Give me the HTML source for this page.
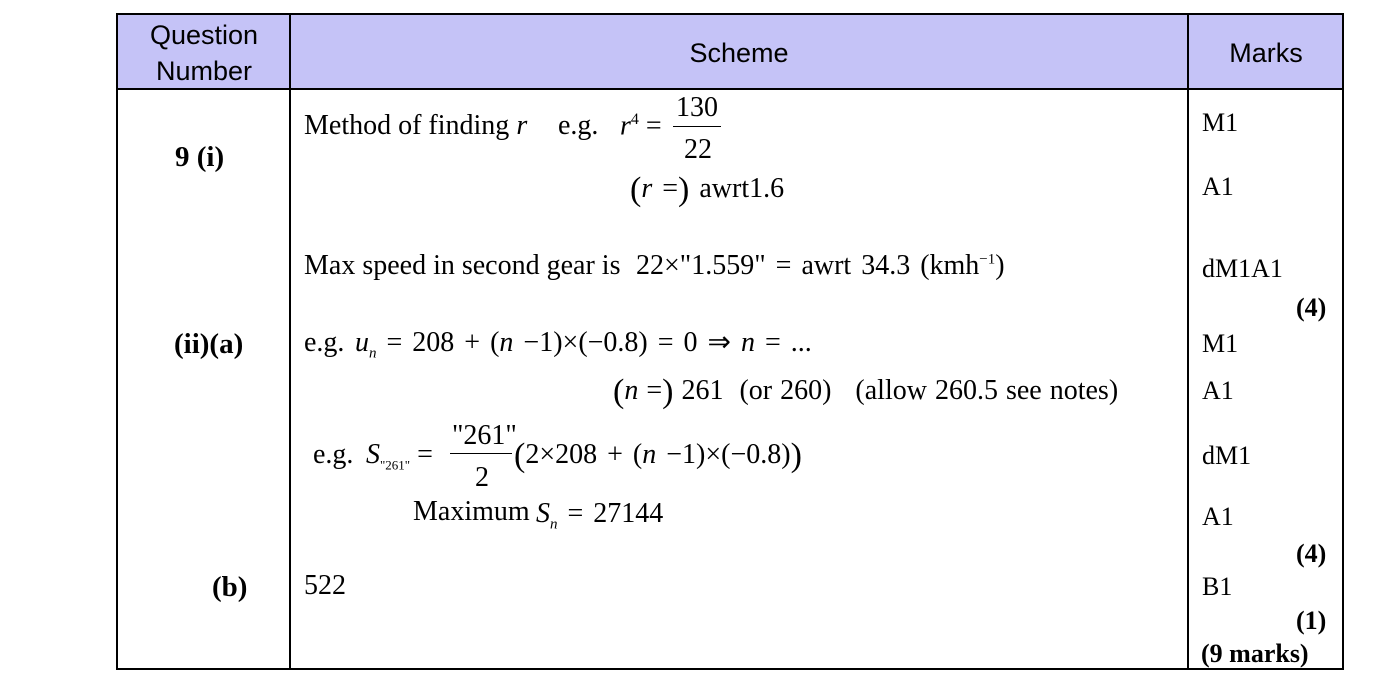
<!DOCTYPE html>
<html><head><meta charset="utf-8"><style>
body{margin:0;width:1386px;height:674px;background:#fff;position:relative;overflow:hidden;font-family:"Liberation Serif",serif;color:#000}
.a{position:absolute;white-space:nowrap;font-size:26px;line-height:1}
.q{position:absolute;white-space:nowrap;font-size:29px;line-height:1;font-weight:bold}
.s{position:absolute;white-space:nowrap;font-size:28px;line-height:1}
.m{word-spacing:3px}
.h{position:absolute;font-family:"Liberation Sans",sans-serif;font-size:27px;text-align:center;line-height:36px}
.l{position:absolute;background:#000}
.b{font-weight:bold}
i{font-style:italic}
.p{font-size:34px;vertical-align:-3px}
</style></head><body>
<div style="position:absolute;left:117px;top:14px;width:1226px;height:75px;background:#c5c3f7"></div>
<div class="l" style="left:116px;top:13px;width:1228px;height:2px"></div>
<div class="l" style="left:116px;top:88px;width:1228px;height:2px"></div>
<div class="l" style="left:116px;top:668px;width:1228px;height:2px"></div>
<div class="l" style="left:116px;top:13px;width:2px;height:657px"></div>
<div class="l" style="left:289px;top:13px;width:2px;height:657px"></div>
<div class="l" style="left:1187px;top:13px;width:2px;height:657px"></div>
<div class="l" style="left:1342px;top:13px;width:2px;height:657px"></div>
<div class="h" style="left:118px;top:17px;width:172px">Question<br>Number</div>
<div class="h" style="left:291px;top:35px;width:896px">Scheme</div>
<div class="h" style="left:1189px;top:35px;width:154px">Marks</div>

<div class="q" style="left:175px;top:143px">9 (i)</div>
<div class="q" style="left:174px;top:330px">(ii)(a)</div>
<div class="q" style="left:212px;top:573px">(b)</div>

<div class="s" style="left:304px;top:112px">Method of finding <i>r</i></div>
<div class="s" style="left:558px;top:112px">e.g.</div>
<div class="s" style="left:620px;top:112px"><i>r</i><sup style="font-size:16px">4</sup> =</div>
<div class="s" style="left:676px;top:94px">130</div>
<div class="l" style="left:673px;top:126px;width:48px;height:1px"></div>
<div class="s" style="left:684px;top:136px">22</div>
<div class="s m" style="left:630px;top:173px"><span class="p">(</span><i>r</i> =<span class="p">)</span> awrt1.6</div>
<div class="s" style="left:304px;top:252px">Max speed in second gear is</div>
<div class="s m" style="left:636px;top:252px">22×"1.559" = awrt 34.3 (kmh<sup style="font-size:15px">−1</sup>)</div>
<div class="s" style="left:304px;top:329px">e.g.</div>
<div class="s m" style="left:355px;top:329px"><i>u<sub style="font-size:15px">n</sub></i> = 208 + (<i>n</i> −1)×(−0.8) = 0 ⇒ <i>n</i> = ...</div>
<div class="s" style="left:613px;top:375px;word-spacing:1px"><span class="p">(</span><i>n</i> =<span class="p">)</span> 261 &nbsp;(or 260) &nbsp; (allow 260.5 see notes)</div>
<div class="s" style="left:313px;top:441px">e.g.</div>
<div class="s" style="left:366px;top:441px"><i>S</i><sub style="font-size:13px">"261"</sub> =</div>
<div class="s" style="left:452px;top:422px">"261"</div>
<div class="l" style="left:450px;top:453px;width:62px;height:1px"></div>
<div class="s" style="left:475px;top:464px">2</div>
<div class="s m" style="left:514px;top:439px"><span class="p">(</span>2×208 + (<i>n</i> −1)×(−0.8)<span class="p">)</span></div>
<div class="s" style="left:413px;top:498px">Maximum</div>
<div class="s m" style="left:536px;top:500px"><i>S<sub style="font-size:15px">n</sub></i> = 27144</div>
<div class="s" style="left:304px;top:572px">522</div>

<div class="a" style="left:1202px;top:110px">M1</div>
<div class="a" style="left:1202px;top:174px">A1</div>
<div class="a" style="left:1202px;top:256px">dM1A1</div>
<div class="a b" style="left:1296px;top:295px">(4)</div>
<div class="a" style="left:1202px;top:331px">M1</div>
<div class="a" style="left:1202px;top:378px">A1</div>
<div class="a" style="left:1202px;top:443px">dM1</div>
<div class="a" style="left:1202px;top:504px">A1</div>
<div class="a b" style="left:1296px;top:541px">(4)</div>
<div class="a" style="left:1202px;top:574px">B1</div>
<div class="a b" style="left:1296px;top:608px">(1)</div>
<div class="a b" style="left:1201px;top:641px">(9 marks)</div>
</body></html>
